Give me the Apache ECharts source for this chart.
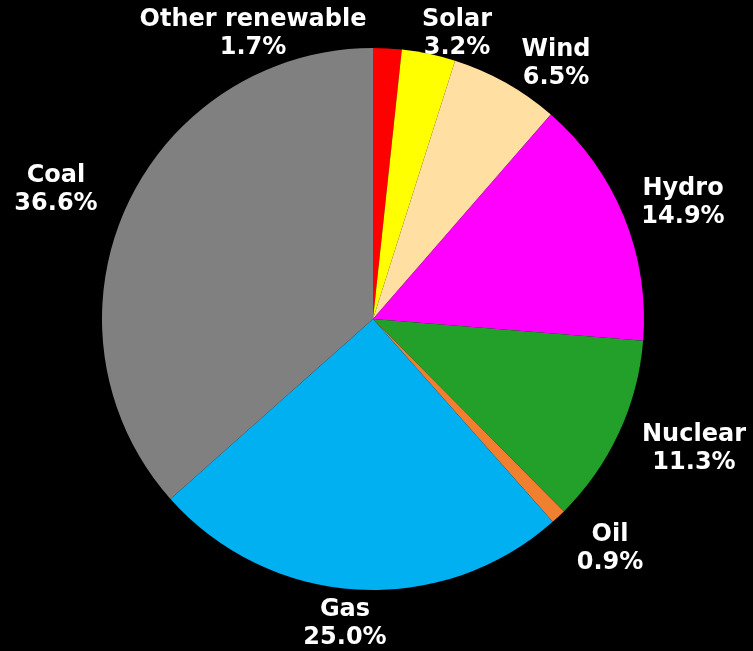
<!DOCTYPE html>
<html>
<head>
<meta charset="utf-8">
<script src="https://cdn.jsdelivr.net/npm/echarts@6/dist/echarts.min.js"></script>
<style>html,body{margin:0;padding:0;background:#000;}#c{width:753px;height:651px;}</style>
</head>
<body>
<div id="c"></div>
<script>
const categories = ["Other renewable", "Solar", "Wind", "Hydro", "Nuclear", "Oil", "Gas", "Coal"];
const values = [1.7, 3.2, 6.5, 14.9, 11.3, 0.9, 25.0, 36.6];
const colors = ["#ff0000", "#ffff00", "#ffe0a2", "#ff00ff", "#22a02a", "#f08030", "#00b0f0", "#808080"];
// label anchor positions (layout only)
const labelPos = [[253, 34], [457, 34], [556, 64], [683, 203], [694, 449], [610, 549], [345, 624], [56, 190]];

const chart = echarts.init(document.getElementById('c'), null, {renderer: 'canvas'});
chart.setOption({
  backgroundColor: '#000',
  animation: false,
  series: [{
    type: 'pie',
    center: [373, 319],
    radius: 271,
    startAngle: 90,
    clockwise: true,
    data: categories.map((n, i) => ({name: n, value: values[i], itemStyle: {color: colors[i]}})),
    itemStyle: {borderWidth: 0},
    emphasis: {disabled: true},
    label: {
      show: true,
      position: 'outside',
      color: '#fff',
      fontFamily: 'DejaVu Sans',
      fontWeight: 'bold',
      fontSize: 24,
      lineHeight: 28,
      align: 'center',
      overflow: 'none',
      formatter: p => p.name + '\n' + p.value.toFixed(1) + '%'
    },
    labelLine: {show: false},
    labelLayout: function (params) {
      const p = labelPos[params.dataIndex];
      return {x: p[0], y: p[1], align: 'center', verticalAlign: 'middle'};
    }
  }]
});
</script>
</body>
</html>
